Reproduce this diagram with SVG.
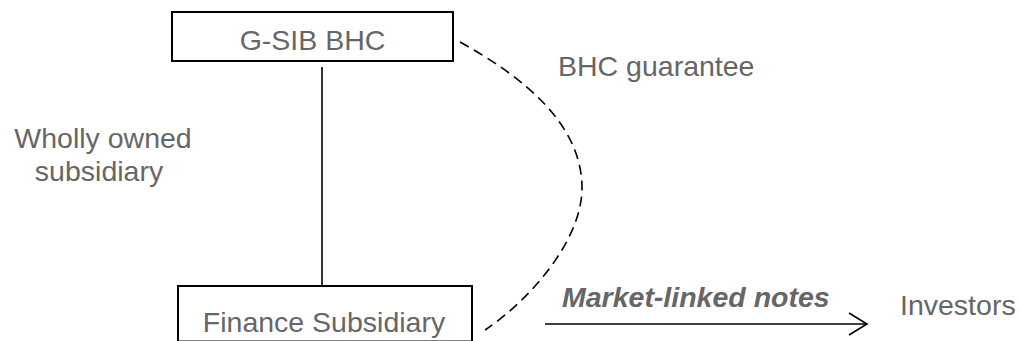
<svg xmlns="http://www.w3.org/2000/svg" width="1021" height="341" viewBox="0 0 1021 341">
<style>
.box{fill:#fff;stroke:#000;stroke-width:2}
.t{font-family:"Liberation Sans",Arial,sans-serif;font-size:28.5px;fill:#666}
.b{font-weight:bold;font-style:italic}
.ln{fill:none;stroke:#000;stroke-width:1.6}
.dash{fill:none;stroke:#000;stroke-width:1.6;stroke-dasharray:10 6}
</style>
<rect width="1021" height="341" fill="#fff"/>
<g id="connectors">
<line class="ln" x1="322" y1="67" x2="322" y2="286"/>
<path class="dash" d="M460,42 C525,78 582,125 582,188 C582,240 530,300 485,330"/>
<line class="ln" x1="545" y1="324" x2="866" y2="324"/>
<polyline class="ln" points="849,313 867,324 849,335"/>
</g>
<g id="gsib">
<rect class="box" x="172" y="12" width="281" height="49"/>
<text class="t" x="312.5" y="50" text-anchor="middle">G-SIB BHC</text>
</g>
<g id="finance">
<rect class="box" x="178" y="286" width="294" height="55.5"/>
<text class="t" x="324" y="332" text-anchor="middle">Finance Subsidiary</text>
</g>
<g id="investors">
<text class="t" x="900" y="315">Investors</text>
</g>
<g id="labels">
<text class="t" x="558" y="76">BHC guarantee</text>
<text class="t" x="103" y="148" text-anchor="middle">Wholly owned</text>
<text class="t" x="99" y="181" text-anchor="middle">subsidiary</text>
<text class="t b" x="562" y="307">Market-linked notes</text>
</g>
</svg>
